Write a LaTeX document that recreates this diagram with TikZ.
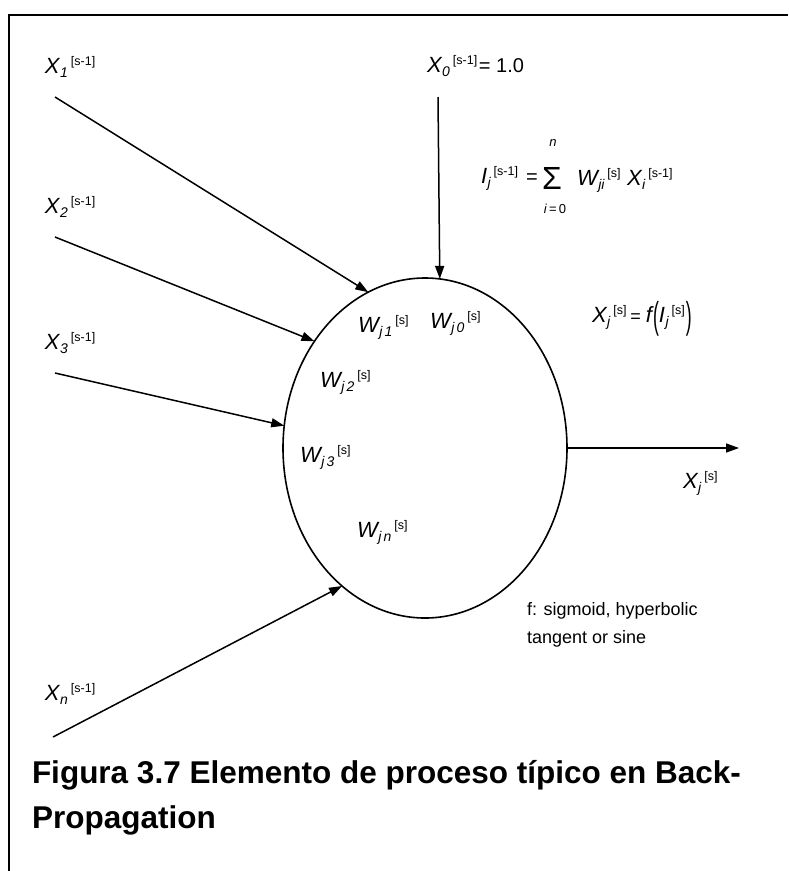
\documentclass[tikz,border=0pt]{standalone}
\usepackage{fontspec}
\setmainfont{Liberation Sans}
\usepackage{graphicx}
\usetikzlibrary{shapes.geometric,arrows.meta}
\newcommand{\lab}[3]{\mbox{\fontsize{22}{26}\selectfont\itshape #1\hspace{0.5pt}\raisebox{-4.5pt}{\fontsize{14}{16}\selectfont #2}\hspace{3pt}\raisebox{8pt}{\fontsize{12.5}{14}\selectfont\upshape[#3]}}}
\newcommand{\bigpar}[1]{\raisebox{-6pt}{\scalebox{0.8}[1.7]{\fontsize{22}{26}\selectfont #1}}}
\begin{document}
\begin{tikzpicture}[x=1pt,y=-1pt,
  arr/.style={line width=1.5pt,-{Triangle[length=13pt,width=9pt]}},
  lbl/.style={anchor=base west,inner sep=0pt,outer sep=0pt},
  ctr/.style={anchor=base,inner sep=0pt,outer sep=0pt}]
\useasboundingbox (0,0) rectangle (788,871);
\fill[white] (0,0) rectangle (788,871);
% frame
\coordinate (fr1) at (788,15);
\coordinate (fr2) at (9,15);
\coordinate (fr3) at (9,871);
\draw[line width=2.2pt] (fr1) -- (fr2) -- (fr3);
% neuron
\node[draw, ellipse, line width=1.6pt, minimum width=284pt, minimum height=340pt,
      inner sep=0pt, outer sep=0pt] (n) at (425,448) {};
% input ends
\coordinate (s1) at (55,97);
\coordinate (s2) at (55,237);
\coordinate (s3) at (55,373);
\coordinate (sn) at (53,737);
\coordinate (s0) at (438,97);
\coordinate (out) at (739,448);
\draw[arr] (s1) -- (n.110.4);
\draw[arr] (s2) -- (n.136.8);
\draw[arr] (s3) -- (n.171.9);
\draw[arr] (sn) -- (n.239.2);
\draw[arr] (s0) -- (n.85.6);
\draw[arr] (n.east) -- (out);
% input labels
\node[lbl] (lx1) at (45,73) {\lab{X}{1}{s-1}};
\node[lbl] (lx2) at (45,213) {\lab{X}{2}{s-1}};
\node[lbl] (lx3) at (45,349) {\lab{X}{3}{s-1}};
\node[lbl] (lxn) at (45,700) {\lab{X}{n}{s-1}};
\node[lbl] (lx0) at (427,72) {\lab{X}{0}{s-1}\,{\fontsize{20}{22}\selectfont = 1.0}};
% sum formula
\node[lbl] (lI) at (481,183) {\lab{I}{j}{s-1}};
\node[lbl] (leq) at (526,183) {\fontsize{20}{22}\selectfont =};
\node[ctr] (sig) at (552,189) {\fontsize{32}{34}\selectfont Σ};
\node[ctr] (nn) at (553,146) {\fontsize{13}{14}\selectfont\itshape n};
\node[ctr] (i0) at (555,213) {\fontsize{13}{14}\selectfont\itshape i\upshape\,=\,0};
\node[lbl] (lW) at (577,185) {\lab{W}{ji}{s}};
\node[lbl] (lXi) at (627,185) {\lab{X}{i}{s-1}};
% weights
\node[lbl] (w1) at (358,332) {\lab{W}{j\,1}{s}};
\node[lbl] (w0) at (430,328) {\lab{W}{j\,0}{s}};
\node[lbl] (w2) at (320,387) {\lab{W}{j\,2}{s}};
\node[lbl] (w3) at (300,462) {\lab{W}{j\,3}{s}};
\node[lbl] (wn) at (357,537) {\lab{W}{j\,n}{s}};
% activation
\node[lbl] (fx) at (592,322) {\lab{X}{j}{s}\hspace{4pt}{\fontsize{18}{20}\selectfont =}\hspace{5pt}{\fontsize{22}{26}\selectfont\itshape f}\hspace{1pt}\bigpar{(}\lab{I}{j}{s}\hspace{1pt}\bigpar{)}};
\node[lbl] (lout) at (683,488) {\lab{X}{j}{s}};
\node[lbl] (f1) at (527,615) {\fontsize{18}{20}\selectfont f: sigmoid, hyperbolic};
\node[lbl] (f2) at (527,643) {\fontsize{18}{20}\selectfont tangent or sine};
% caption
\node[lbl] (cap1) at (32,783) {\fontsize{31.5}{36}\selectfont\bfseries Figura 3.7 Elemento de proceso típico en Back-};
\node[lbl] (cap2) at (32,828) {\fontsize{31.5}{36}\selectfont\bfseries Propagation};
\end{tikzpicture}
\end{document}
